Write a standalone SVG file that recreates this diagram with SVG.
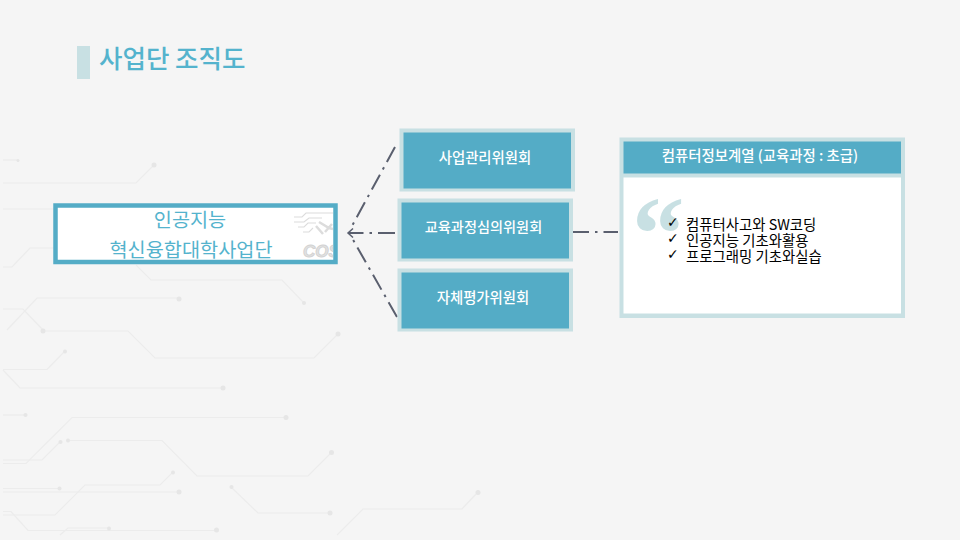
<svg xmlns="http://www.w3.org/2000/svg" width="960" height="540" viewBox="0 0 960 540">
<defs>
<marker id="open" markerUnits="userSpaceOnUse" markerWidth="10" markerHeight="12" refX="7" refY="6" orient="auto"><path d="M2 1.500 L7 6 L2 10.500" fill="none" stroke="#5a5f6e" stroke-width="1.500"/></marker>
<clipPath id="logoClip"><rect x="290" y="208" width="43" height="52"/></clipPath>
</defs>
<style>
.kr{font-family:"Noto Sans CJK KR","Liberation Sans",sans-serif}
.c{fill:none;stroke:#ececec;stroke-width:1.2}
.d{fill:#e6e6e6}
.con{fill:none;stroke:#5a5f6e;stroke-width:2;stroke-dasharray:17 6 2.5 6}
.halo{fill:#c8e0e3}
.blue{fill:#54acc6}
.w{fill:#fff;font-size:14.4px;font-weight:500;text-anchor:middle}
.b{fill:#000;font-size:14.4px}
.t{fill:#54b3cd;font-size:19.7px;text-anchor:middle}
.ck{fill:#000;font-family:"DejaVu Sans",sans-serif;font-size:14px}
</style>
<rect width="960" height="540" fill="#f5f5f5"/>
<g id="circuit-background">
<path class="c" d="M3 160H18"/><circle class="d" cx="18" cy="160.500" r="1.500"/>
<path class="c" d="M3 183H136L154 165"/><circle class="d" cx="154" cy="165" r="2.500"/>
<path class="c" d="M3 209H56"/>
<path class="c" d="M3 267H12L30 248H56"/>
<path class="c" d="M136 265L151 280H282L304 303"/><circle class="d" cx="304" cy="303" r="2"/>
<path class="c" d="M3 309H23L43 330"/>
<path class="c" d="M7 330L37 298H179"/><circle class="d" cx="179" cy="299" r="2.500"/>
<path class="c" d="M43 331H128L155 358H314L338 334"/><circle class="d" cx="43" cy="331" r="2.500"/><circle class="d" cx="338" cy="334" r="2.500"/>
<path class="c" d="M3 369.500H47L65 351"/><circle class="d" cx="65" cy="351.500" r="2"/>
<path class="c" d="M3 370L20 388H222"/><circle class="d" cx="223" cy="388" r="2.500"/>
<path class="c" d="M3 415H25"/><circle class="d" cx="25.500" cy="415" r="2"/>
<path class="c" d="M3 463.500H26L72 417.500H286"/><circle class="d" cx="286" cy="417.500" r="2.500"/>
<path class="c" d="M3 460H42L60 442"/><circle class="d" cx="60.500" cy="442" r="2"/>
<path class="c" d="M68 440.500H162L197 476H308L331 453"/><circle class="d" cx="68" cy="440.500" r="2"/><circle class="d" cx="331.500" cy="452.500" r="2.500"/>
<path class="c" d="M3 488.500H59"/><circle class="d" cx="59.500" cy="488.500" r="2"/>
<path class="c" d="M3 492H178"/><circle class="d" cx="179" cy="492" r="2.500"/>
<path class="c" d="M3 515H55L85 485H160L173 472"/><circle class="d" cx="173" cy="472.500" r="2"/>
<path class="c" d="M3 511.500H11L28 530.500H216"/><circle class="d" cx="216.500" cy="530" r="2.500"/>
<path class="c" d="M60 535L68 528H108"/><circle class="d" cx="109" cy="528.500" r="2"/>
<path class="c" d="M231 487L258 513H329"/><circle class="d" cx="231.500" cy="487" r="2"/><circle class="d" cx="330" cy="513" r="2.500"/>
<path class="c" d="M337 535L363 509H462L477 493"/><circle class="d" cx="478" cy="492.500" r="2.500"/>
</g>
<g id="title">
<rect x="77" y="46" width="13" height="33" class="halo"/>
<text class="kr" x="99" y="68" font-size="25.500" font-weight="500" fill="#54b3cd">사업단 조직도</text>
</g>
<g id="connectors">
<path class="con" d="M395 147L352 226"/>
<path class="con" d="M395 233H348" marker-end="url(#open)"/>
<path class="con" d="M397 317L352 238"/>
<path class="con" d="M572 232H618"/>
</g>
<g id="node-main">
<rect x="55.500" y="205.500" width="280" height="56.500" fill="#fff" stroke="#54acc6" stroke-width="4.500"/>
<g clip-path="url(#logoClip)" fill="none" stroke="#dcdcdc" stroke-width="1.100">
<path d="M294 217H302L306 213H333M294 222H304L309 218H322M298 227H304L308 223H316M303 232H309L313 228"/>
<path d="M316 226L323 234M319 222L329 228L333 229M325 232L332 224" stroke-width="2.500"/>
<text x="303" y="257" font-family="'Liberation Sans',sans-serif" font-size="17" font-weight="700" font-style="italic" fill="#e2e2e2" stroke="#d2d2d2" stroke-width="0.900">COS</text>
</g>
<text class="kr t" x="190" y="227">인공지능</text>
<text class="kr t" x="191" y="257">혁신융합대학사업단</text>
</g>
<g id="node-committee-1">
<rect x="399.500" y="128.500" width="175.500" height="63" class="halo"/>
<rect x="403.500" y="132.500" width="167.500" height="56" class="blue"/>
<text class="kr w" x="485" y="163">사업관리위원회</text>
</g>
<g id="node-committee-2">
<rect x="397.500" y="198.500" width="175.500" height="63" class="halo"/>
<rect x="401.500" y="202.500" width="167.500" height="56" class="blue"/>
<text class="kr w" x="483.500" y="232" style="font-size:14.2px">교육과정심의위원회</text>
</g>
<g id="node-committee-3">
<rect x="397.500" y="268.500" width="175.500" height="63" class="halo"/>
<rect x="401.500" y="272.500" width="167.500" height="56" class="blue"/>
<text class="kr w" x="483" y="303">자체평가위원회</text>
</g>
<g id="node-curriculum">
<rect x="619.500" y="137.500" width="285.500" height="180.500" class="halo"/>
<rect x="623.500" y="141.500" width="277.500" height="32" class="blue"/>
<rect x="623.500" y="177.500" width="277.500" height="136" fill="#fff"/>
<text class="kr w" x="760" y="161">컴퓨터정보계열 (교육과정 : 초급)</text>
<text x="632" y="270" font-family="'Liberation Serif',serif" font-size="105" font-weight="700" fill="#c8e0e3">“</text>
<text class="ck" x="667" y="227">✓</text>
<text class="ck" x="667" y="243">✓</text>
<text class="ck" x="667" y="259">✓</text>
<text class="kr b" x="686" y="230">컴퓨터사고와 SW코딩</text>
<text class="kr b" x="686" y="246">인공지능 기초와활용</text>
<text class="kr b" x="686" y="262">프로그래밍 기초와실습</text>
</g>
</svg>
